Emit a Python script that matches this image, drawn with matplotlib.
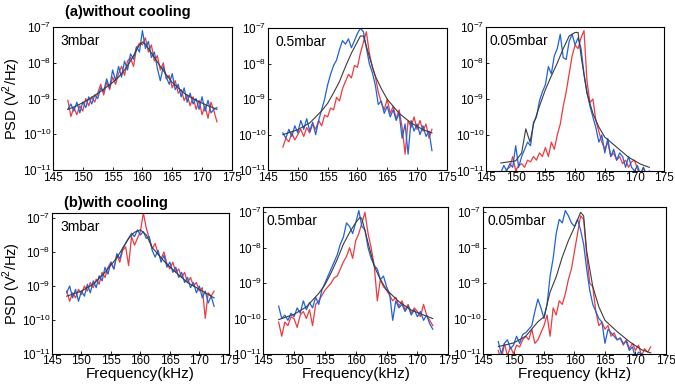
import numpy as np
import matplotlib
matplotlib.use("Agg")
import matplotlib.pyplot as plt

plt.rcParams['font.family'] = ['Liberation Sans', 'DejaVu Sans']
plt.rcParams['mathtext.fontset'] = 'custom'
plt.rcParams['mathtext.rm'] = 'Liberation Sans'

# -------------------------------
# dane (log10 PSD), częstotliwość w kHz
# -------------------------------
freq = [147.5, 148.0, 148.5, 149.0, 149.5, 150.0, 150.5, 151.0, 151.5, 152.0,
        152.5, 153.0, 153.5, 154.0, 154.5, 155.0, 155.5, 156.0, 156.5, 157.0,
        157.5, 158.0, 158.5, 159.0, 159.5, 160.0, 160.5, 161.0, 161.5, 162.0,
        162.5, 163.0, 163.5, 164.0, 164.5, 165.0, 165.5, 166.0, 166.5, 167.0,
        167.5, 168.0, 168.5, 169.0, 169.5, 170.0, 170.5, 171.0, 171.5, 172.0,
        172.5]

# (a) without cooling, 3 mbar
a1_red = [-9.05, -9.50, -9.25, -9.45, -9.20, -9.35, -9.00, -9.20, -8.95, -9.10,
          -8.85, -8.60, -8.90, -8.55, -8.75, -8.40, -8.60, -8.30, -8.10, -8.35,
          -7.95, -7.85, -8.10, -7.60, -7.45, -7.50, -7.30, -7.70, -7.50, -7.95,
          -7.80, -8.20, -8.00, -8.45, -8.35, -8.70, -8.50, -8.85, -8.75, -9.05,
          -8.90, -9.20, -8.95, -9.30, -9.05, -9.45, -9.20, -9.55, -9.10, -9.35,
          -9.65]
a1_blue = [-9.30, -9.15, -9.35, -9.10, -9.40, -9.10, -9.25, -8.95, -9.15, -8.90,
           -9.00, -8.70, -8.80, -8.45, -8.70, -8.20, -8.50, -8.10, -8.40, -7.95,
           -8.20, -7.75, -7.90, -7.55, -7.70, -7.10, -7.60, -7.40, -7.85, -7.70,
           -8.15, -8.50, -8.10, -8.40, -8.60, -8.30, -8.75, -8.60, -8.95, -8.70,
           -9.10, -8.85, -9.15, -9.00, -9.30, -8.95, -9.35, -9.05, -9.40, -9.30,
           -9.25]
a1_fit_f = [147.5, 149, 151, 153, 155, 156, 157, 158, 159, 159.5, 160, 160.5,
            161, 162, 163, 164, 165, 167, 169, 171, 172.5]
a1_fit = [-9.30, -9.20, -9.02, -8.80, -8.55, -8.40, -8.20, -7.95, -7.65, -7.50,
          -7.42, -7.48, -7.60, -7.85, -8.10, -8.33, -8.55, -8.85, -9.05, -9.20,
          -9.30]

# (a) without cooling, 0.5 mbar
a2_red = [-10.35, -10.10, -10.20, -9.95, -10.15, -10.00, -9.85, -10.05, -9.80, -9.95,
          -9.70, -9.85, -9.60, -9.75, -9.45, -9.50, -9.25, -9.30, -8.95, -9.05,
          -8.70, -8.50, -8.30, -8.40, -8.05, -8.10, -7.70, -7.40, -7.10, -7.70,
          -8.10, -8.35, -8.80, -9.10, -9.30, -9.00, -9.40, -9.20, -9.55, -9.30,
          -9.80, -10.55, -9.60, -9.80, -9.50, -9.85, -9.60, -9.90, -9.70, -10.10,
          -9.85]
a2_blue = [-9.95, -10.10, -9.85, -10.05, -9.75, -9.95, -9.60, -9.85, -9.55, -9.90,
           -9.65, -10.00, -9.60, -9.30, -9.00, -8.60, -8.30, -8.05, -7.90, -7.60,
           -7.35, -7.45, -7.30, -7.55, -7.35, -7.15, -7.00, -7.10, -7.55, -8.00,
           -8.25, -8.60, -9.15, -9.05, -9.40, -9.20, -9.50, -9.30, -9.60, -9.40,
           -10.10, -9.70, -10.55, -9.60, -9.90, -9.70, -10.00, -9.75, -10.05, -9.90,
           -10.45]
a2_fit_f = [147.5, 150, 152, 154, 155, 156, 157, 158, 159, 160, 160.5, 161,
            162, 163, 164, 165, 167, 169, 171, 172.5]
a2_fit = [-10.00, -9.86, -9.67, -9.33, -9.12, -8.82, -8.50, -8.08, -7.70, -7.38,
          -7.22, -7.22, -7.80, -8.35, -8.70, -9.00, -9.40, -9.67, -9.86, -9.95]

# (a) without cooling, 0.05 mbar
a3_red = [-11.05, -11.15, -10.95, -10.90, -10.60, -11.00, -10.85, -10.80, -10.90, -10.70,
          -10.75, -10.60, -10.70, -10.50, -10.60, -10.35, -10.60, -10.20, -10.40, -10.00,
          -9.70, -9.20, -8.80, -8.30, -7.80, -7.50, -7.60, -7.30, -7.10, -8.50,
          -9.10, -9.00, -9.60, -9.90, -10.20, -10.40, -10.20, -10.60, -10.50, -10.70,
          -10.60, -10.80, -10.70, -10.90, -10.75, -10.70, -10.95, -11.10, -10.90, -11.20,
          -11.05]
a3_blue = [-11.05, -10.85, -11.00, -10.80, -10.90, -10.30, -10.90, -10.60, -10.40, -10.20,
           -10.30, -9.65, -9.50, -9.05, -8.80, -8.60, -8.10, -8.30, -7.80, -7.60,
           -7.20, -7.85, -7.90, -7.40, -7.20, -7.50, -7.30, -7.60, -8.30, -8.80,
           -9.20, -9.50, -9.80, -10.20, -10.00, -10.50, -10.10, -10.60, -10.40, -10.70,
           -10.50, -10.60, -10.90, -10.60, -10.90, -11.00, -10.85, -11.10, -10.90, -11.10,
           -11.00]
a3_fit_f = [147.5, 150, 151, 151.7, 152.4, 153, 154, 155, 156, 157, 158, 159,
            160, 160.5, 161, 162, 163, 164, 165, 167, 169, 171, 172.5]
a3_fit = [-10.78, -10.72, -10.50, -9.83, -10.20, -9.70, -9.20, -8.74, -8.36, -8.00,
          -7.60, -7.25, -7.15, -7.15, -7.80, -8.85, -9.40, -9.78, -10.06, -10.34,
          -10.62, -10.81, -10.90]

# (b) with cooling, 3 mbar
b1_red = [-9.15, -9.45, -9.20, -9.35, -9.10, -9.25, -9.00, -9.15, -8.90, -9.05,
          -8.80, -8.95, -8.60, -8.75, -8.45, -8.30, -8.50, -8.10, -8.30, -7.95,
          -7.85, -8.40, -7.55, -7.80, -7.60, -7.40, -6.85, -7.30, -7.60, -7.90,
          -7.75, -8.05, -8.20, -8.00, -8.35, -8.50, -8.30, -8.60, -8.50, -8.75,
          -8.60, -8.90, -8.75, -9.00, -8.90, -9.15, -9.05, -9.95, -9.20, -9.30,
          -9.15]
b1_blue = [-9.20, -9.00, -9.35, -9.10, -9.45, -9.15, -9.30, -8.95, -9.20, -8.85,
           -9.05, -8.70, -8.85, -8.45, -8.65, -8.30, -8.50, -8.05, -8.20, -7.90,
           -7.75, -7.60, -7.45, -7.55, -7.35, -7.50, -7.40, -7.60, -7.55, -7.95,
           -8.15, -7.95, -8.30, -8.10, -8.45, -8.30, -8.60, -8.45, -8.75, -8.60,
           -8.90, -8.75, -9.05, -8.90, -9.20, -9.00, -9.35, -9.15, -9.50, -9.30,
           -9.60]
b1_fit_f = [147.5, 150, 152, 154, 156, 158, 159, 160, 161, 162, 164, 166, 168, 170, 172.5]
b1_fit = [-9.30, -9.15, -8.95, -8.60, -8.17, -7.60, -7.42, -7.35, -7.50, -7.87,
          -8.27, -8.60, -8.90, -9.10, -9.35]

# (b) with cooling, 0.5 mbar
b2_red = [-10.10, -10.50, -10.10, -10.20, -9.95, -10.00, -10.25, -9.90, -9.80, -10.00,
          -9.75, -10.20, -9.60, -9.50, -9.35, -9.20, -9.10, -9.00, -8.85, -8.80,
          -8.60, -8.40, -8.25, -8.00, -8.30, -7.80, -7.60, -7.30, -7.00, -7.60,
          -8.00, -8.50, -9.50, -8.90, -9.10, -9.20, -9.35, -9.50, -9.40, -9.65,
          -9.50, -9.75, -9.60, -9.85, -9.70, -9.80, -9.95, -9.60, -9.90, -10.05,
          -10.20]
b2_blue = [-9.65, -10.00, -9.90, -10.05, -9.85, -9.95, -9.70, -9.85, -9.50, -9.75,
           -9.55, -9.70, -9.40, -9.60, -9.20, -9.00, -8.80, -8.60, -8.40, -8.20,
           -7.90, -7.70, -7.30, -7.40, -7.60, -7.30, -6.95, -7.40, -7.50, -8.00,
           -8.30, -8.50, -8.60, -8.90, -8.80, -9.10, -9.30, -10.05, -9.50, -9.70,
           -9.60, -9.80, -9.65, -9.90, -9.75, -9.95, -9.80, -10.05, -9.90, -10.15,
           -10.30]
b2_fit_f = [147.5, 150, 152, 154, 155, 156, 157, 158, 159, 160, 160.7, 161,
            162, 163, 164, 165, 167, 169, 171, 172.5]
b2_fit = [-10.03, -9.88, -9.67, -9.29, -9.05, -8.71, -8.33, -7.90, -7.57, -7.29,
          -7.14, -7.18, -7.86, -8.52, -8.90, -9.19, -9.52, -9.76, -9.90, -10.00]

# (b) with cooling, 0.05 mbar
b3_red = [-10.90, -11.20, -10.70, -11.05, -10.80, -11.00, -10.75, -10.80, -10.60, -10.50,
          -10.60, -10.30, -10.70, -10.60, -10.40, -10.20, -9.90, -10.50, -9.70, -9.90,
          -9.50, -9.60, -9.30, -8.90, -8.60, -8.10, -7.60, -7.10, -7.20, -8.20,
          -9.00, -9.10, -9.80, -10.20, -10.10, -10.30, -10.20, -10.50, -10.40, -10.60,
          -10.55, -10.75, -10.60, -10.85, -10.70, -10.90, -10.75, -11.05, -10.85, -10.95,
          -10.80]
b3_blue = [-10.65, -11.00, -10.70, -10.60, -10.85, -10.75, -10.50, -10.70, -10.45, -10.40,
           -10.30, -10.20, -9.80, -9.45, -9.70, -10.00, -9.60, -8.80, -8.30, -7.60,
           -7.20, -7.30, -6.95, -7.10, -7.30, -7.40, -7.20, -7.50, -7.90, -8.60,
           -9.20, -9.60, -9.80, -10.00, -10.10, -10.70, -10.30, -10.40, -10.50, -10.60,
           -10.55, -10.70, -10.65, -10.90, -10.80, -11.10, -10.95, -11.00, -11.15, -11.10,
           -11.20]
b3_fit_f = [147.5, 150, 152, 154, 155, 155.5, 156, 157, 158, 159, 160, 161, 161.5,
            162, 163, 164, 165, 167, 169, 171, 172.5]
b3_fit = [-10.79, -10.69, -10.50, -10.09, -9.95, -9.60, -9.25, -8.82, -8.26, -7.80,
          -7.42, -7.00, -7.10, -8.10, -9.10, -9.67, -10.05, -10.37, -10.65, -10.88,
          -10.97]

labels = ["3mbar", "0.5mbar", "0.05mbar", "3mbar", "0.5mbar", "0.05mbar"]
xticks = [145, 150, 155, 160, 165, 170, 175]

panels = [
    (a1_red, a1_blue, a1_fit_f, a1_fit),
    (a2_red, a2_blue, a2_fit_f, a2_fit),
    (a3_red, a3_blue, a3_fit_f, a3_fit),
    (b1_red, b1_blue, b1_fit_f, b1_fit),
    (b2_red, b2_blue, b2_fit_f, b2_fit),
    (b3_red, b3_blue, b3_fit_f, b3_fit),
]

# pozycje osi [left, bottom, width, height]
positions = [
    [0.0785, 0.566, 0.265, 0.365],
    [0.397, 0.566, 0.265, 0.362],
    [0.720, 0.564, 0.264, 0.367],
    [0.077, 0.097, 0.262, 0.360],
    [0.390, 0.097, 0.274, 0.375],
    [0.7156, 0.097, 0.271, 0.375],
]
ytops = [-7.1, -7.0, -7.0, -6.85, -6.85, -6.85]
label_x = [0.04, 0.04, 0.02, 0.045, 0.02, 0.027]

RED = '#ee3a40'
BLUE = '#1f62da'
FIT = '#3c3c3c'

fig = plt.figure(figsize=(6.75, 3.92), dpi=100)

for i, (red, blue, ff, fit) in enumerate(panels):
    ax = fig.add_axes(positions[i])
    ax.plot(freq, 10 ** np.array(red), color=RED, lw=0.9)
    ax.plot(freq, 10 ** np.array(blue), color=BLUE, lw=0.9)
    ax.plot(ff, 10 ** np.array(fit), color=FIT, lw=0.8)
    ax.set_yscale('log')
    ax.set_xlim(145, 175)
    ax.set_ylim(1e-11, 10 ** ytops[i])
    ax.set_xticks(xticks)
    ax.set_yticks([1e-11, 1e-10, 1e-9, 1e-8, 1e-7])
    ax.minorticks_off()
    ax.tick_params(direction='in', length=2, width=0.6, labelsize=8.5, pad=1)
    for s in ax.spines.values():
        s.set_linewidth(0.8)
    ax.text(label_x[i], 0.95, labels[i], transform=ax.transAxes, fontsize=10,
            va='top', ha='left')
    if i in (0, 3):
        ax.set_ylabel("PSD (V$^2$/Hz)", fontsize=10.5)
        ax.yaxis.set_label_coords(-0.165, 0.5)
    if i in (3, 4):
        ax.set_xlabel("Frequency(kHz)", fontsize=11, labelpad=0)
    if i == 5:
        ax.set_xlabel("Frequency (kHz)", fontsize=11, labelpad=0)

fig.text(0.19, 0.969, "(a)without cooling", fontsize=10.5, fontweight='bold',
         ha='center', va='center')
fig.text(0.172, 0.482, "(b)with cooling", fontsize=10.5, fontweight='bold',
         ha='center', va='center')

plt.savefig("out.png", dpi=100)
